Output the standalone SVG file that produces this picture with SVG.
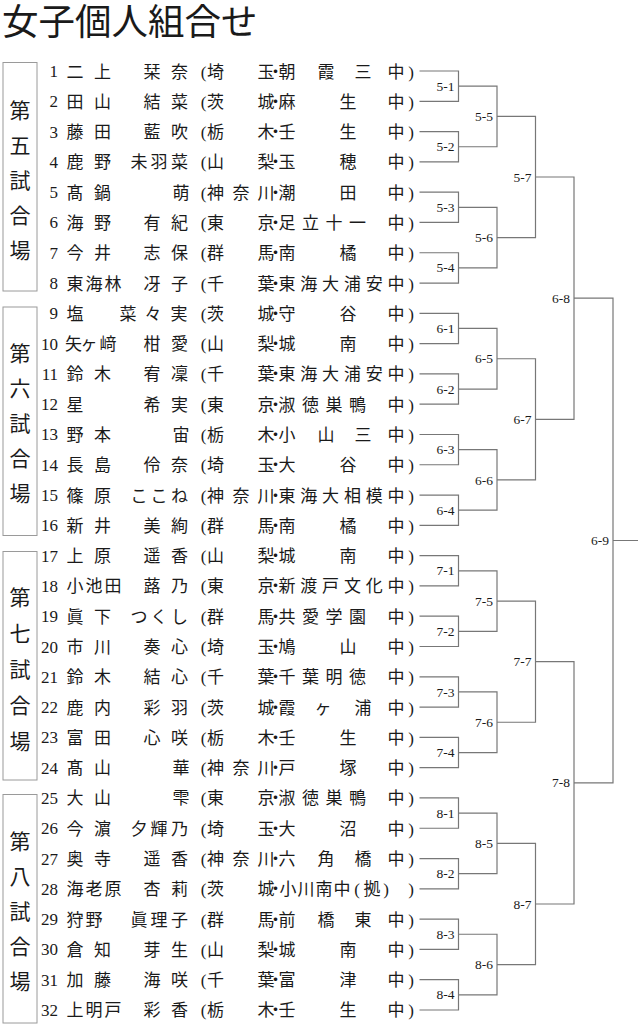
<svg xmlns="http://www.w3.org/2000/svg" width="638" height="1024" viewBox="0 0 638 1024">
<style>
.bg{fill:#ffffff}
.t{font-family:"Noto Sans CJK JP","Noto Sans CJK SC",sans-serif;font-size:36.5px;fill:#1a1a1a}
.v{font-family:"Noto Sans CJK JP","Noto Sans CJK SC",sans-serif;font-size:21px;fill:#1a1a1a;text-anchor:middle}
.box{fill:none;stroke:#9a9a9a;stroke-width:1}
.num{font-family:"Liberation Serif",serif;font-size:17px;fill:#1a1a1a;text-anchor:end}
.j{font-family:"Noto Sans CJK JP","Noto Sans CJK SC",sans-serif;font-size:17px;fill:#1a1a1a;text-anchor:middle}
.p{font-family:"Liberation Serif",serif;font-size:17px}
.lb{font-family:"Liberation Serif",serif;font-size:13.5px;fill:#1a1a1a;text-anchor:end}
.ln{fill:none;stroke:#777777;stroke-width:1.2}
</style>
<rect class="bg" x="0" y="0" width="638" height="1024"/>
<g id="title"><text class="t" x="2" y="35">女子個人組合せ</text></g>

<g id="venue5"><rect class="box" x="3" y="62.5" width="34" height="228.5"/><text class="v" x="20 20 20 20 20" y="117.75 152.75 187.75 222.75 257.75">第五試合場</text></g>
<g id="venue6"><rect class="box" x="3" y="307" width="34" height="228.5"/><text class="v" x="20 20 20 20 20" y="361.25 396.25 431.25 466.25 501.25">第六試合場</text></g>
<g id="venue7"><rect class="box" x="3" y="551.5" width="34" height="228.5"/><text class="v" x="20 20 20 20 20" y="605 641 677 713 749">第七試合場</text></g>
<g id="venue8"><rect class="box" x="3" y="794.5" width="34" height="228.5"/><text class="v" x="20 20 20 20 20" y="849 884 919 954 989">第八試合場</text></g>

<g id="p1" transform="translate(0,71)"><text class="num" x="58" y="6">1</text><text class="j" x="75 102.5" y="6.5">二上</text><text class="j" x="152 179.5" y="6.5">栞奈</text><text class="j" y="6.5"><tspan class="p" x="203.5">(</tspan><tspan x="215.5 266 275.5 287 326 363 396">埼玉・朝霞三中</tspan><tspan class="p" x="411">)</tspan></text></g>
<g id="p2" transform="translate(0,101.29)"><text class="num" x="58" y="6">2</text><text class="j" x="75 102.5" y="6.5">田山</text><text class="j" x="152 179.5" y="6.5">結菜</text><text class="j" y="6.5"><tspan class="p" x="203.5">(</tspan><tspan x="215.5 266 275.5 287 348 396">茨城・麻生中</tspan><tspan class="p" x="411">)</tspan></text></g>
<g id="p3" transform="translate(0,131.58)"><text class="num" x="58" y="6">3</text><text class="j" x="75 102.5" y="6.5">藤田</text><text class="j" x="152 179.5" y="6.5">藍吹</text><text class="j" y="6.5"><tspan class="p" x="203.5">(</tspan><tspan x="215.5 266 275.5 287 348 396">栃木・壬生中</tspan><tspan class="p" x="411">)</tspan></text></g>
<g id="p4" transform="translate(0,161.87)"><text class="num" x="58" y="6">4</text><text class="j" x="75 102.5" y="6.5">鹿野</text><text class="j" x="139 159 179.5" y="6.5">未羽菜</text><text class="j" y="6.5"><tspan class="p" x="203.5">(</tspan><tspan x="215.5 266 275.5 287 348 396">山梨・玉穂中</tspan><tspan class="p" x="411">)</tspan></text></g>
<g id="p5" transform="translate(0,192.16)"><text class="num" x="58" y="6">5</text><text class="j" x="75 102.5" y="6.5">髙鍋</text><text class="j" x="181" y="6.5">萌</text><text class="j" y="6.5"><tspan class="p" x="203.5">(</tspan><tspan x="215.5 241 266 275.5 287 348 396">神奈川・潮田中</tspan><tspan class="p" x="411">)</tspan></text></g>
<g id="p6" transform="translate(0,222.45)"><text class="num" x="58" y="6">6</text><text class="j" x="75 102.5" y="6.5">海野</text><text class="j" x="152 179.5" y="6.5">有紀</text><text class="j" y="6.5"><tspan class="p" x="203.5">(</tspan><tspan x="215.5 266 275.5 287 310.5 334 357.5 396">東京・足立十一中</tspan><tspan class="p" x="411">)</tspan></text></g>
<g id="p7" transform="translate(0,252.74)"><text class="num" x="58" y="6">7</text><text class="j" x="75 102.5" y="6.5">今井</text><text class="j" x="152 179.5" y="6.5">志保</text><text class="j" y="6.5"><tspan class="p" x="203.5">(</tspan><tspan x="215.5 266 275.5 287 348 396">群馬・南橘中</tspan><tspan class="p" x="411">)</tspan></text></g>
<g id="p8" transform="translate(0,283.03)"><text class="num" x="58" y="6">8</text><text class="j" x="75 94 113" y="6.5">東海林</text><text class="j" x="152 179.5" y="6.5">冴子</text><text class="j" y="6.5"><tspan class="p" x="203.5">(</tspan><tspan x="215.5 266 275.5 287 308.8 330.6 352.4 374.2 396">千葉・東海大浦安中</tspan><tspan class="p" x="411">)</tspan></text></g>
<g id="p9" transform="translate(0,313.32)"><text class="num" x="58" y="6">9</text><text class="j" x="75" y="6.5">塩</text><text class="j" x="128 153 179" y="6.5">菜々実</text><text class="j" y="6.5"><tspan class="p" x="203.5">(</tspan><tspan x="215.5 266 275.5 287 348 396">茨城・守谷中</tspan><tspan class="p" x="411">)</tspan></text></g>
<g id="p10" transform="translate(0,343.61)"><text class="num" x="58" y="6">10</text><text class="j" x="73.5 89 108" y="6.5">矢ヶ﨑</text><text class="j" x="152 179.5" y="6.5">柑愛</text><text class="j" y="6.5"><tspan class="p" x="203.5">(</tspan><tspan x="215.5 266 275.5 287 348 396">山梨・城南中</tspan><tspan class="p" x="411">)</tspan></text></g>
<g id="p11" transform="translate(0,373.9)"><text class="num" x="58" y="6">11</text><text class="j" x="75 102.5" y="6.5">鈴木</text><text class="j" x="152 179.5" y="6.5">宥凜</text><text class="j" y="6.5"><tspan class="p" x="203.5">(</tspan><tspan x="215.5 266 275.5 287 308.8 330.6 352.4 374.2 396">千葉・東海大浦安中</tspan><tspan class="p" x="411">)</tspan></text></g>
<g id="p12" transform="translate(0,404.19)"><text class="num" x="58" y="6">12</text><text class="j" x="75" y="6.5">星</text><text class="j" x="152 179.5" y="6.5">希実</text><text class="j" y="6.5"><tspan class="p" x="203.5">(</tspan><tspan x="215.5 266 275.5 287 310.5 334 357.5 396">東京・淑徳巣鴨中</tspan><tspan class="p" x="411">)</tspan></text></g>
<g id="p13" transform="translate(0,434.48)"><text class="num" x="58" y="6">13</text><text class="j" x="75 102.5" y="6.5">野本</text><text class="j" x="181" y="6.5">宙</text><text class="j" y="6.5"><tspan class="p" x="203.5">(</tspan><tspan x="215.5 266 275.5 287 326 363 396">栃木・小山三中</tspan><tspan class="p" x="411">)</tspan></text></g>
<g id="p14" transform="translate(0,464.77)"><text class="num" x="58" y="6">14</text><text class="j" x="75 102.5" y="6.5">長島</text><text class="j" x="152 179.5" y="6.5">伶奈</text><text class="j" y="6.5"><tspan class="p" x="203.5">(</tspan><tspan x="215.5 266 275.5 287 348 396">埼玉・大谷中</tspan><tspan class="p" x="411">)</tspan></text></g>
<g id="p15" transform="translate(0,495.06)"><text class="num" x="58" y="6">15</text><text class="j" x="75 102.5" y="6.5">篠原</text><text class="j" x="139 159 179.5" y="6.5">ここね</text><text class="j" y="6.5"><tspan class="p" x="203.5">(</tspan><tspan x="215.5 241 266 275.5 287 308.8 330.6 352.4 374.2 396">神奈川・東海大相模中</tspan><tspan class="p" x="411">)</tspan></text></g>
<g id="p16" transform="translate(0,525.35)"><text class="num" x="58" y="6">16</text><text class="j" x="75 102.5" y="6.5">新井</text><text class="j" x="152 179.5" y="6.5">美絢</text><text class="j" y="6.5"><tspan class="p" x="203.5">(</tspan><tspan x="215.5 266 275.5 287 348 396">群馬・南橘中</tspan><tspan class="p" x="411">)</tspan></text></g>
<g id="p17" transform="translate(0,555.64)"><text class="num" x="58" y="6">17</text><text class="j" x="75 102.5" y="6.5">上原</text><text class="j" x="152 179.5" y="6.5">遥香</text><text class="j" y="6.5"><tspan class="p" x="203.5">(</tspan><tspan x="215.5 266 275.5 287 348 396">山梨・城南中</tspan><tspan class="p" x="411">)</tspan></text></g>
<g id="p18" transform="translate(0,585.93)"><text class="num" x="58" y="6">18</text><text class="j" x="75 94 113" y="6.5">小池田</text><text class="j" x="152 179.5" y="6.5">蕗乃</text><text class="j" y="6.5"><tspan class="p" x="203.5">(</tspan><tspan x="215.5 266 275.5 287 308.8 330.6 352.4 374.2 396">東京・新渡戸文化中</tspan><tspan class="p" x="411">)</tspan></text></g>
<g id="p19" transform="translate(0,616.22)"><text class="num" x="58" y="6">19</text><text class="j" x="75 102.5" y="6.5">眞下</text><text class="j" x="139 159 179.5" y="6.5">つくし</text><text class="j" y="6.5"><tspan class="p" x="203.5">(</tspan><tspan x="215.5 266 275.5 287 310.5 334 357.5 396">群馬・共愛学園中</tspan><tspan class="p" x="411">)</tspan></text></g>
<g id="p20" transform="translate(0,646.51)"><text class="num" x="58" y="6">20</text><text class="j" x="75 102.5" y="6.5">市川</text><text class="j" x="152 179.5" y="6.5">奏心</text><text class="j" y="6.5"><tspan class="p" x="203.5">(</tspan><tspan x="215.5 266 275.5 287 348 396">埼玉・鳩山中</tspan><tspan class="p" x="411">)</tspan></text></g>
<g id="p21" transform="translate(0,676.8)"><text class="num" x="58" y="6">21</text><text class="j" x="75 102.5" y="6.5">鈴木</text><text class="j" x="152 179.5" y="6.5">結心</text><text class="j" y="6.5"><tspan class="p" x="203.5">(</tspan><tspan x="215.5 266 275.5 287 310.5 334 357.5 396">千葉・千葉明徳中</tspan><tspan class="p" x="411">)</tspan></text></g>
<g id="p22" transform="translate(0,707.09)"><text class="num" x="58" y="6">22</text><text class="j" x="75 102.5" y="6.5">鹿内</text><text class="j" x="152 179.5" y="6.5">彩羽</text><text class="j" y="6.5"><tspan class="p" x="203.5">(</tspan><tspan x="215.5 266 275.5 287 323 363 396">茨城・霞ヶ浦中</tspan><tspan class="p" x="411">)</tspan></text></g>
<g id="p23" transform="translate(0,737.38)"><text class="num" x="58" y="6">23</text><text class="j" x="75 102.5" y="6.5">富田</text><text class="j" x="152 179.5" y="6.5">心咲</text><text class="j" y="6.5"><tspan class="p" x="203.5">(</tspan><tspan x="215.5 266 275.5 287 348 396">栃木・壬生中</tspan><tspan class="p" x="411">)</tspan></text></g>
<g id="p24" transform="translate(0,767.67)"><text class="num" x="58" y="6">24</text><text class="j" x="75 102.5" y="6.5">髙山</text><text class="j" x="181" y="6.5">華</text><text class="j" y="6.5"><tspan class="p" x="203.5">(</tspan><tspan x="215.5 241 266 275.5 287 348 396">神奈川・戸塚中</tspan><tspan class="p" x="411">)</tspan></text></g>
<g id="p25" transform="translate(0,797.96)"><text class="num" x="58" y="6">25</text><text class="j" x="75 102.5" y="6.5">大山</text><text class="j" x="181" y="6.5">雫</text><text class="j" y="6.5"><tspan class="p" x="203.5">(</tspan><tspan x="215.5 266 275.5 287 310.5 334 357.5 396">東京・淑徳巣鴨中</tspan><tspan class="p" x="411">)</tspan></text></g>
<g id="p26" transform="translate(0,828.25)"><text class="num" x="58" y="6">26</text><text class="j" x="75 102.5" y="6.5">今濵</text><text class="j" x="139 159 179.5" y="6.5">夕輝乃</text><text class="j" y="6.5"><tspan class="p" x="203.5">(</tspan><tspan x="215.5 266 275.5 287 348 396">埼玉・大沼中</tspan><tspan class="p" x="411">)</tspan></text></g>
<g id="p27" transform="translate(0,858.54)"><text class="num" x="58" y="6">27</text><text class="j" x="75 102.5" y="6.5">奥寺</text><text class="j" x="152 179.5" y="6.5">遥香</text><text class="j" y="6.5"><tspan class="p" x="203.5">(</tspan><tspan x="215.5 241 266 275.5 287 326 363 396">神奈川・六角橋中</tspan><tspan class="p" x="411">)</tspan></text></g>
<g id="p28" transform="translate(0,888.83)"><text class="num" x="58" y="6">28</text><text class="j" x="75 94 113" y="6.5">海老原</text><text class="j" x="152 179.5" y="6.5">杏莉</text><text class="j" y="6.5"><tspan class="p" x="203.5">(</tspan><tspan x="215.5 266 275.5 288 306 324 342">茨城・小川南中</tspan><tspan class="p" x="357">(</tspan><tspan x="372">拠</tspan><tspan class="p" x="386">)</tspan><tspan class="p" x="411">)</tspan></text></g>
<g id="p29" transform="translate(0,919.12)"><text class="num" x="58" y="6">29</text><text class="j" x="75 94" y="6.5">狩野</text><text class="j" x="139 159 179.5" y="6.5">眞理子</text><text class="j" y="6.5"><tspan class="p" x="203.5">(</tspan><tspan x="215.5 266 275.5 287 326 363 396">群馬・前橋東中</tspan><tspan class="p" x="411">)</tspan></text></g>
<g id="p30" transform="translate(0,949.41)"><text class="num" x="58" y="6">30</text><text class="j" x="75 102.5" y="6.5">倉知</text><text class="j" x="152 179.5" y="6.5">芽生</text><text class="j" y="6.5"><tspan class="p" x="203.5">(</tspan><tspan x="215.5 266 275.5 287 348 396">山梨・城南中</tspan><tspan class="p" x="411">)</tspan></text></g>
<g id="p31" transform="translate(0,979.7)"><text class="num" x="58" y="6">31</text><text class="j" x="75 102.5" y="6.5">加藤</text><text class="j" x="152 179.5" y="6.5">海咲</text><text class="j" y="6.5"><tspan class="p" x="203.5">(</tspan><tspan x="215.5 266 275.5 287 348 396">千葉・富津中</tspan><tspan class="p" x="411">)</tspan></text></g>
<g id="p32" transform="translate(0,1009.99)"><text class="num" x="58" y="6">32</text><text class="j" x="75 94 113" y="6.5">上明戸</text><text class="j" x="152 179.5" y="6.5">彩香</text><text class="j" y="6.5"><tspan class="p" x="203.5">(</tspan><tspan x="215.5 266 275.5 287 348 396">栃木・壬生中</tspan><tspan class="p" x="411">)</tspan></text></g>

<g id="connectors" class="ln">
<path d="M419.5 71H458.5V101.29H419.5M419.5 131.58H458.5V161.87H419.5M419.5 192.16H458.5V222.45H419.5M419.5 252.74H458.5V283.03H419.5M419.5 313.32H458.5V343.61H419.5M419.5 373.9H458.5V404.19H419.5M419.5 434.48H458.5V464.77H419.5M419.5 495.06H458.5V525.35H419.5M419.5 555.64H458.5V585.93H419.5M419.5 616.22H458.5V646.51H419.5M419.5 676.8H458.5V707.09H419.5M419.5 737.38H458.5V767.67H419.5M419.5 797.96H458.5V828.25H419.5M419.5 858.54H458.5V888.83H419.5M419.5 919.12H458.5V949.41H419.5M419.5 979.7H458.5V1009.99H419.5"/>
<path d="M458.5 86.15H497V146.73H458.5M458.5 207.31H497V267.89H458.5M458.5 328.47H497V389.05H458.5M458.5 449.63H497V510.21H458.5M458.5 570.79H497V631.37H458.5M458.5 691.95H497V752.53H458.5M458.5 813.11H497V873.69H458.5M458.5 934.27H497V994.85H458.5"/>
<path d="M497 116.44H535.5V237.6H497M497 358.76H535.5V479.92H497M497 601.08H535.5V722.24H497M497 843.4H535.5V964.56H497"/>
<path d="M535.5 177.02H574V419.34H535.5M535.5 661.66H574V903.98H535.5"/>
<path d="M574 298.18H613V782.82H574M613 540.5H638"/>
</g>

<g id="matches">
<text class="lb" x="454.5" y="90.75">5-1</text>
<text class="lb" x="454.5" y="151.33">5-2</text>
<text class="lb" x="454.5" y="211.91">5-3</text>
<text class="lb" x="454.5" y="272.49">5-4</text>
<text class="lb" x="454.5" y="333.07">6-1</text>
<text class="lb" x="454.5" y="393.65">6-2</text>
<text class="lb" x="454.5" y="454.23">6-3</text>
<text class="lb" x="454.5" y="514.81">6-4</text>
<text class="lb" x="454.5" y="575.39">7-1</text>
<text class="lb" x="454.5" y="635.97">7-2</text>
<text class="lb" x="454.5" y="696.55">7-3</text>
<text class="lb" x="454.5" y="757.13">7-4</text>
<text class="lb" x="454.5" y="817.71">8-1</text>
<text class="lb" x="454.5" y="878.29">8-2</text>
<text class="lb" x="454.5" y="938.87">8-3</text>
<text class="lb" x="454.5" y="999.45">8-4</text>
<text class="lb" x="493" y="121.04">5-5</text>
<text class="lb" x="493" y="242.2">5-6</text>
<text class="lb" x="493" y="363.36">6-5</text>
<text class="lb" x="493" y="484.52">6-6</text>
<text class="lb" x="493" y="605.68">7-5</text>
<text class="lb" x="493" y="726.84">7-6</text>
<text class="lb" x="493" y="848">8-5</text>
<text class="lb" x="493" y="969.16">8-6</text>
<text class="lb" x="531.5" y="181.62">5-7</text>
<text class="lb" x="531.5" y="423.94">6-7</text>
<text class="lb" x="531.5" y="666.26">7-7</text>
<text class="lb" x="531.5" y="908.58">8-7</text>
<text class="lb" x="570" y="302.78">6-8</text>
<text class="lb" x="570" y="787.42">7-8</text>
<text class="lb" x="609" y="545.1">6-9</text>
</g>
</svg>
